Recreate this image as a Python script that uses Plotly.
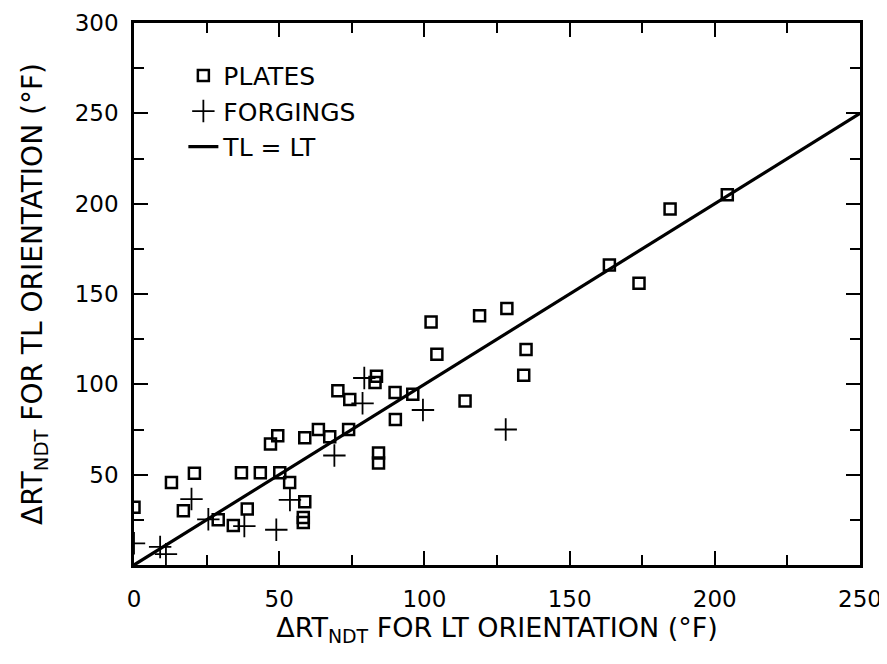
import plotly.graph_objects as go

# PLATES: (LT orientation, TL orientation) shifts in deg F
plates_x = [0, 12.9, 20.8, 17, 29, 34.2, 39, 37, 43.5, 50.2, 53.6, 47, 49.5,
            58.8, 58.3, 58.3, 58.8, 63.5, 67.4, 73.9, 70.2, 74.3, 83.5, 83,
            89.9, 96, 90, 84.2, 84.2, 102.3, 119, 128.4, 104.3, 135, 134.2,
            114, 163.7, 173.9, 184.6, 204.3]
plates_y = [32, 45.6, 50.8, 30, 25, 21.8, 31, 51, 51, 51, 45.6, 67, 71.5,
            35, 26.3, 23.5, 70.5, 75, 71, 75, 96.4, 91.6, 104.5, 101,
            95.5, 94.5, 80.6, 62, 56.5, 134.5, 138, 142, 116.6, 119.3, 105,
            90.8, 166, 156, 197, 205]

# FORGINGS
forg_x = [0, 9, 11, 19.8, 25.6, 38, 49, 53.7, 69, 79.3, 78.7, 99.5, 128]
forg_y = [12, 10, 6, 36.5, 25.3, 21.5, 19.5, 36, 60.6, 103.5, 89.5, 85.8, 75]

# TL = LT reference line
line_x = [0, 250]
line_y = [0, 250]

x_ticks = [0, 50, 100, 150, 200, 250]
y_ticks = [50, 100, 150, 200, 250, 300]

FONT = "DejaVu Sans"

fig = go.Figure()
fig.add_trace(go.Scatter(
    x=plates_x, y=plates_y, mode="markers", name="PLATES",
    marker=dict(symbol="square-open", size=11, color="black",
                line=dict(width=2.5, color="black")),
))
fig.add_trace(go.Scatter(
    x=forg_x, y=forg_y, mode="markers", name="FORGINGS",
    marker=dict(symbol="cross-thin-open", size=16, color="black",
                line=dict(width=1.8, color="black")),
))
fig.add_trace(go.Scatter(
    x=line_x, y=line_y, mode="lines", name="TL = LT",
    line=dict(color="black", width=3.2),
))

axis_common = dict(
    showline=True, linecolor="black", linewidth=2.5, mirror="ticks",
    ticks="inside", ticklen=14, tickwidth=2, tickcolor="black",
    showgrid=False, zeroline=False, automargin=False,
    ticklabeloverflow="allow",
    minor=dict(dtick=25, ticks="inside", ticklen=10, tickwidth=2, tickcolor="black"),
    tickfont=dict(family=FONT, size=23, color="black"),
)

fig.update_xaxes(
    range=[0, 250], tickvals=x_ticks, ticktext=[str(v) for v in x_ticks],
    ticklabelstandoff=12,
    title=dict(text="ΔRT<sub>NDT</sub> FOR LT ORIENTATION (°F)",
               font=dict(family=FONT, size=27, color="black"), standoff=2),
    **axis_common,
)
fig.update_yaxes(
    range=[0, 300], tickvals=y_ticks, ticktext=[str(v) for v in y_ticks],
    ticklabelstandoff=8,
    title=dict(text="ΔRT<sub>NDT</sub> FOR TL ORIENTATION (°F)",
               font=dict(family=FONT, size=28, color="black"), standoff=24),
    **axis_common,
)

fig.update_layout(
    width=887, height=664,
    margin=dict(l=126, r=35, t=15, b=107),
    plot_bgcolor="white", paper_bgcolor="white",
    showlegend=True,
    legend=dict(x=0.068, y=0.945, xanchor="left", yanchor="top",
                bgcolor="rgba(0,0,0,0)", borderwidth=0,
                font=dict(family=FONT, size=25, color="black"),
                itemwidth=30, tracegroupgap=0),
)

fig.write_html("out.html")
